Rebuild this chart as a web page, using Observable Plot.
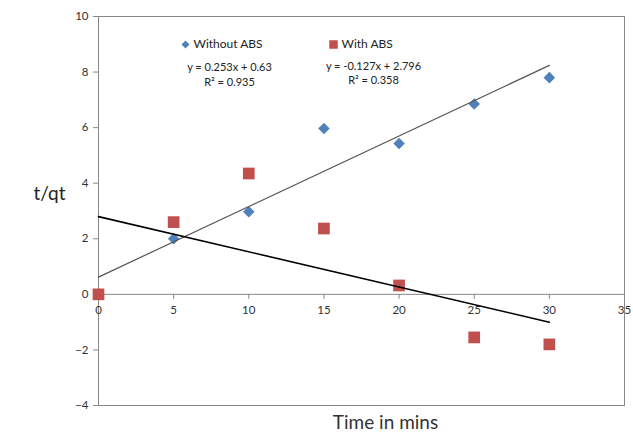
<!DOCTYPE html>
<html><head><meta charset="utf-8">
<script src="https://cdn.jsdelivr.net/npm/d3@7"></script>
<script src="https://cdn.jsdelivr.net/npm/@observablehq/plot@0.6"></script>
<style>body{margin:0;background:#fff}#c{width:633px;height:441px}</style>
</head><body><div id="c"></div>
<script>
const times = [0, 5, 10, 15, 20, 25, 30];
const withoutABS = [0, 2.0, 2.97, 5.97, 5.43, 6.85, 7.8];
const withABS = [0, 2.6, 4.35, 2.37, 0.32, -1.55, -1.8];
const xTicks = [0, 5, 10, 15, 20, 25, 30, 35];
const yTicks = [-4, -2, 0, 2, 4, 6, 8, 10];
const seriesNames = ["Without ABS", "With ABS"];
const equations = ["y = 0.253x + 0.63", "y = -0.127x + 2.796"];
const rSquared = ["R² = 0.935", "R² = 0.358"];

const blue = "#4F81BD", red = "#C0504D";
const dataWithout = times.map((t, i) => ({t, v: withoutABS[i]}));
const dataWith = times.map((t, i) => ({t, v: withABS[i]}));
const font = "Lato, 'Open Sans', sans-serif";

const chart = Plot.plot({
  width: 633, height: 441,
  marginLeft: 98, marginTop: 16, marginRight: 9, marginBottom: 36,
  style: {fontFamily: font, fontSize: "11px", color: "#333", background: "#fff"},
  x: {domain: [0, 35]},
  y: {domain: [-4, 10]},
  marks: [
    Plot.frame({stroke: "#888"}),
    Plot.ruleY([0], {stroke: "#888"}),
    Plot.ruleX([0], {stroke: "#888"}),
    Plot.axisY({ticks: yTicks, tickSize: 5, tickPadding: 5, label: null, stroke: "#888", fill: "#333", fontSize: 11.5}),
    Plot.axisX({ticks: [], label: null}),
    Plot.ruleX(xTicks, {x: d => d, y1: 0, y2: 0, insetBottom: -5, stroke: "#888"}),
    Plot.text(xTicks, {x: d => d, y: 0, dy: 16, text: d => String(d), fill: "#333", fontSize: 11.5}),
    Plot.dot(dataWithout, {x: "t", y: "v", symbol: "diamond2", r: 5.2, fill: blue}),
    Plot.dot(dataWith, {x: "t", y: "v", symbol: "square", r: 6.6, fill: red}),
    Plot.linearRegressionY(dataWithout, {x: "t", y: "v", stroke: "#555", strokeWidth: 1.2, ci: 0}),
    Plot.linearRegressionY(dataWith, {x: "t", y: "v", stroke: "#000", strokeWidth: 1.6, ci: 0}),
    // legend
    Plot.dot([0], {frameAnchor: "top-left", dx: 87, dy: 28, symbol: "diamond2", r: 3.6, fill: blue}),
    Plot.dot([0], {frameAnchor: "top-left", dx: 235, dy: 28, symbol: "square", r: 4.8, fill: red}),
    Plot.text([seriesNames[0]], {frameAnchor: "top-left", dx: 95, dy: 28, textAnchor: "start", lineAnchor: "middle", fill: "#222", fontSize: 12}),
    Plot.text([seriesNames[1]], {frameAnchor: "top-left", dx: 243, dy: 28, textAnchor: "start", lineAnchor: "middle", fill: "#222", fontSize: 12}),
    Plot.text([equations[0]], {frameAnchor: "top-left", dx: 131, dy: 51, textAnchor: "middle", lineAnchor: "middle", fill: "#222"}),
    Plot.text([rSquared[0]], {frameAnchor: "top-left", dx: 131, dy: 66, textAnchor: "middle", lineAnchor: "middle", fill: "#222"}),
    Plot.text([equations[1]], {frameAnchor: "top-left", dx: 275, dy: 50, textAnchor: "middle", lineAnchor: "middle", fill: "#222"}),
    Plot.text([rSquared[1]], {frameAnchor: "top-left", dx: 275, dy: 64, textAnchor: "middle", lineAnchor: "middle", fill: "#222"}),
    // axis titles
    Plot.text(["t/qt"], {frameAnchor: "left", dx: -65, dy: -17, fontSize: 19, fill: "#222"}),
    Plot.text(["Time in mins"], {frameAnchor: "bottom", dx: 24, dy: 23, fontSize: 19, fill: "#333"})
  ]
});
document.getElementById("c").appendChild(chart);
</script>
</body></html>
